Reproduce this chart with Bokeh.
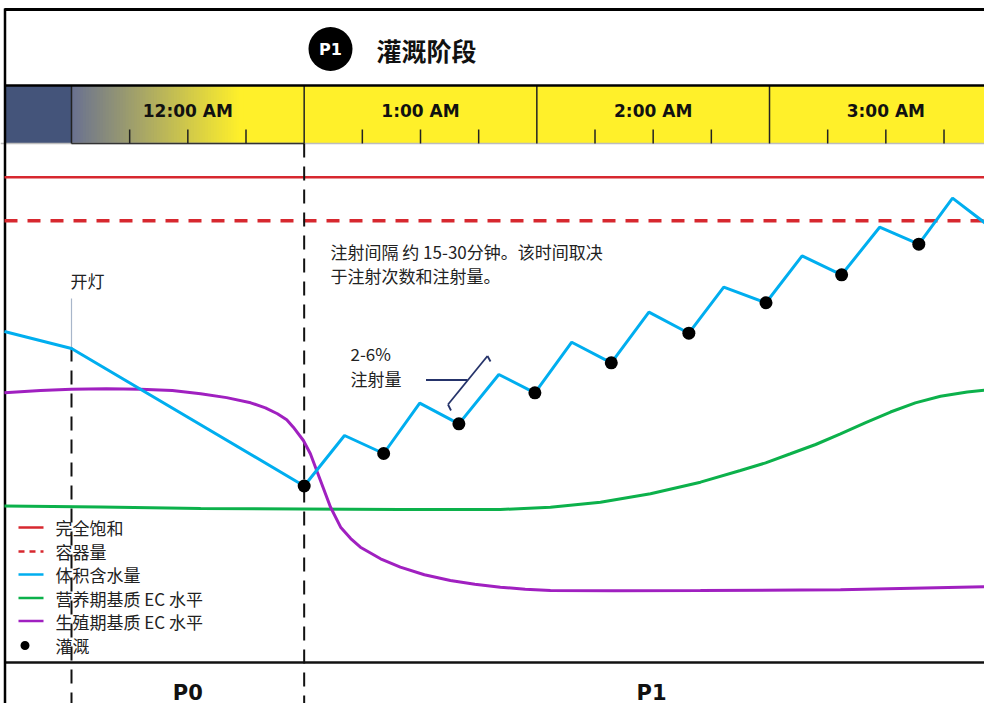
from bokeh.plotting import figure
from bokeh.models import Range1d
from bokeh.core.properties import value
from bokeh.embed import file_html
from bokeh.resources import INLINE

# ---------------- data ----------------
hour_labels = ["12:00 AM", "1:00 AM", "2:00 AM", "3:00 AM"]
hour_starts = [0, 60, 120, 180]          # minutes after 12:00 AM
quarter_offsets = [15, 30, 45]

lights_on_t = 0                          # 开灯
p1_start_t = 60                          # start of P1 irrigation phase

saturation = 76.0                        # 完全饱和
container_capacity = 69.8                # 容器量

vwc_t = [-17.3, 0, 60, 70.4, 80.5, 89.8, 99.9, 110.2, 119.5, 129.0, 139.2,
         148.9, 159.2, 168.2, 179.1, 188.4, 198.6, 208.4, 218.5, 227.2, 237.5]
vwc = [54.05, 51.64, 32.08, 39.26, 36.70, 43.86, 40.92, 47.94, 45.33, 52.53, 49.60,
       56.80, 53.81, 60.36, 58.14, 64.82, 62.12, 68.89, 66.47, 73.02, 68.67]

irrigation_t = [60, 80.5, 99.9, 119.5, 139.2, 159.2, 179.1, 198.6, 218.5]
irrigation_v = [32.08, 36.70, 40.92, 45.33, 49.60, 53.81, 58.14, 62.12, 66.47]

veg_ec_t = [-17.3, 7.5, 33.3, 59.1, 84.8, 110.6, 123.5, 136.4, 149.3, 162.2,
            172.5, 179.0, 185.4, 191.9, 198.3, 204.8, 211.2, 217.6, 224.1, 231.0, 237.5]
veg_ec = [29.23, 29.09, 28.88, 28.81, 28.73, 28.73, 29.06, 29.77, 30.97, 32.62,
          34.28, 35.37, 36.66, 37.98, 39.50, 41.10, 42.60, 43.90, 44.85, 45.45, 45.80]

gen_ec_t = [-17.3, -8.0, 0, 9.0, 17.8, 26.0, 33.3, 40.0, 46.2, 50.0, 53.1, 55.5, 57.2,
            59.8, 61.6, 64.2, 66.8, 69.4, 72.0, 74.5, 79.7, 84.8, 91.0, 97.7, 104.0,
            110.6, 117.0, 123.5, 140.0, 162.2, 198.3, 237.5]
gen_ec = [45.33, 45.65, 45.85, 45.92, 45.85, 45.65, 45.19, 44.65, 43.91, 43.20, 42.35,
          41.50, 40.44, 38.55, 36.66, 32.86, 29.06, 26.22, 24.60, 23.37, 21.72, 20.53,
          19.45, 18.63, 18.10, 17.68, 17.40, 17.21, 17.18, 17.21, 17.31, 17.78]

phase_labels = ["P0", "P1"]
phase_centers = [30, 149.6]

legend_labels = ["完全饱和", "容器量", "体积含水量", "营养期基质 EC 水平", "生殖期基质 EC 水平", "灌溉"]

# ---------------- styles ----------------
RED = "#d7282f"
BLUE = "#00aeef"
GREEN = "#0cb14b"
PURPLE = "#a020c0"
NAVY = "#44547a"
YELLOW = "#fff02a"
BRACKET = "#25336a"
TXT = "#222222"
CJK = value("Noto Sans CJK SC")

W, H = 984, 703
PX_PER_MIN = 232.67 / 60.0


def X(px):
    """layout pixel -> minutes"""
    return (px - 71) / PX_PER_MIN


def Y(py):
    """layout pixel -> value scale"""
    return (711 - py) * 100.0 / 703.0


p = figure(width=W, height=H, x_range=Range1d(X(0), X(W)), y_range=Range1d(Y(H), Y(0)),
           x_axis_type=None, y_axis_type=None, toolbar_location=None,
           output_backend="svg", min_border=0)
p.outline_line_color = None
p.grid.visible = False
p.background_fill_color = "white"

x_lo, x_hi = X(0), X(W)

# ---------------- time bar ----------------
bar_top, bar_bot = Y(85), Y(143)
p.quad(left=hour_starts[0], right=x_hi + 5, bottom=bar_bot, top=bar_top,
       fill_color=YELLOW, line_color=None)
p.quad(left=X(4), right=hour_starts[0], bottom=bar_bot, top=bar_top,
       fill_color=NAVY, line_color=None)

# gradient (dusk -> light) inside first hour cell
n = 60
g_end = 44.0
c0 = (0x6a, 0x72, 0x90)
c1 = (0xff, 0xf0, 0x2a)
lefts, rights, cols = [], [], []
for i in range(n):
    f = i / (n - 1)
    col = tuple(int(round(c0[k] + (c1[k] - c0[k]) * f)) for k in range(3))
    lefts.append(g_end * i / n)
    rights.append(g_end * (i + 1) / n + 0.35)
    cols.append("#%02x%02x%02x" % col)
p.quad(left=lefts, right=rights, bottom=bar_bot, top=bar_top, fill_color=cols, line_color=None)

# bar border lines
p.segment(x0=[x_lo], y0=[bar_bot], x1=[x_hi], y1=[bar_bot], line_color="#bdbdbd", line_width=1.5)
p.segment(x0=[hour_starts[0]], y0=[bar_bot], x1=[hour_starts[1]], y1=[bar_bot],
          line_color="#333333", line_width=1.5)
p.segment(x0=hour_starts, y0=[bar_bot] * 4, x1=hour_starts, y1=[bar_top] * 4,
          line_color="#222222", line_width=1.5)

tx = [h + q for h in hour_starts for q in quarter_offsets]
p.segment(x0=tx, y0=[bar_bot] * len(tx), x1=tx, y1=[Y(129)] * len(tx),
          line_color="#222222", line_width=1.5)

p.text(x=[h + 30 for h in hour_starts], y=[Y(110)] * 4, text=hour_labels,
       text_font=value("DejaVu Sans"), text_font_style="bold", text_font_size="17px",
       text_align="center", text_baseline="middle", text_color="#111111")

# ---------------- frame lines ----------------
p.segment(x0=[X(4)], y0=[Y(9)], x1=[x_hi], y1=[Y(9)], line_color="black", line_width=3)
p.segment(x0=[X(4)], y0=[bar_top], x1=[x_hi], y1=[bar_top], line_color="black", line_width=2.5)
p.segment(x0=[X(4)], y0=[Y(662)], x1=[x_hi], y1=[Y(662)], line_color="#111111", line_width=2.5)
p.segment(x0=[X(4.5)], y0=[Y(8)], x1=[X(4.5)], y1=[Y(H)], line_color="black", line_width=2.5)

# ---------------- header ----------------
p.scatter(x=[X(330)], y=[Y(48.5)], size=44, marker="circle", fill_color="black", line_color=None)
p.text(x=[X(330)], y=[Y(49)], text=["P1"], text_font=value("DejaVu Sans"), text_font_style="bold",
       text_font_size="16px", text_align="center", text_baseline="middle", text_color="white")
p.text(x=[X(376)], y=[Y(49)], text=["灌溉阶段"], text_font=CJK, text_font_style="bold",
       text_font_size="25px", text_align="left", text_baseline="middle", text_color="#111111")

# ---------------- reference lines ----------------
p.segment(x0=[X(4)], y0=[saturation], x1=[x_hi], y1=[saturation], line_color=RED, line_width=2.5)
p.segment(x0=[X(4)], y0=[container_capacity], x1=[x_hi], y1=[container_capacity],
          line_color=RED, line_width=3.5, line_dash="13 10")

# event dashed verticals
p.segment(x0=[lights_on_t], y0=[Y(347)], x1=[lights_on_t], y1=[Y(H)],
          line_color="#111111", line_width=2, line_dash="14 9")
p.segment(x0=[p1_start_t], y0=[Y(143)], x1=[p1_start_t], y1=[Y(H)],
          line_color="#111111", line_width=2, line_dash="14 9")
p.segment(x0=[lights_on_t], y0=[Y(298)], x1=[lights_on_t], y1=[Y(347)],
          line_color="#a8b6ca", line_width=1.2)

# ---------------- series ----------------
p.line(veg_ec_t, veg_ec, line_color=GREEN, line_width=3)
p.line(gen_ec_t, gen_ec, line_color=PURPLE, line_width=3)
p.line(vwc_t, vwc, line_color=BLUE, line_width=3)
p.scatter(irrigation_t, irrigation_v, size=13, marker="circle", fill_color="black", line_color=None)

# ---------------- annotations ----------------
p.text(x=[X(70)], y=[Y(280)], text=["开灯"], text_font=CJK, text_font_size="17px",
       text_align="left", text_baseline="middle", text_color=TXT)
p.text(x=[X(330), X(330)], y=[Y(251), Y(275)],
       text=["注射间隔 约 15-30分钟。该时间取决", "于注射次数和注射量。"],
       text_font=CJK, text_font_size="17px", text_align="left", text_baseline="middle",
       text_color=TXT)
p.text(x=[X(350), X(350)], y=[Y(353), Y(378)], text=["2-6%", "注射量"],
       text_font=CJK, text_font_size="17px", text_align="left", text_baseline="middle",
       text_color=TXT)
# bracket for dose
p.segment(x0=[X(425.5)], y0=[Y(379.5)], x1=[X(467)], y1=[Y(379.5)], line_color=BRACKET, line_width=1.8)
p.segment(x0=[X(447.5)], y0=[Y(404)], x1=[X(487)], y1=[Y(355.5)], line_color=BRACKET, line_width=1.8)
p.segment(x0=[X(447.5), X(487)], y0=[Y(404), Y(355.5)], x1=[X(450.5), X(490)], y1=[Y(410), Y(361)],
          line_color=BRACKET, line_width=1.8)

# ---------------- legend ----------------
rows_y = [Y(527), Y(551), Y(574), Y(597.5), Y(620.5), Y(645)]
leg_colors = [RED, RED, BLUE, GREEN, PURPLE]
leg_dash = ["solid", "6 5", "solid", "solid", "solid"]
for i in range(5):
    p.segment(x0=[X(18)], y0=[rows_y[i]], x1=[X(43)], y1=[rows_y[i]], line_color=leg_colors[i],
              line_width=2.5, line_dash=leg_dash[i])
p.scatter(x=[X(24.5)], y=[rows_y[5]], size=9, marker="circle", fill_color="black", line_color=None)
p.text(x=[X(55)] * 6, y=rows_y, text=legend_labels, text_font=CJK, text_font_size="17px",
       text_align="left", text_baseline="middle", text_color=TXT)

# ---------------- phase labels ----------------
p.text(x=phase_centers, y=[Y(692)] * 2, text=phase_labels, text_font=value("DejaVu Sans"),
       text_font_style="bold", text_font_size="21px", text_align="center", text_baseline="middle",
       text_color="#111111")

open("out.html", "w").write(file_html(p, INLINE))
